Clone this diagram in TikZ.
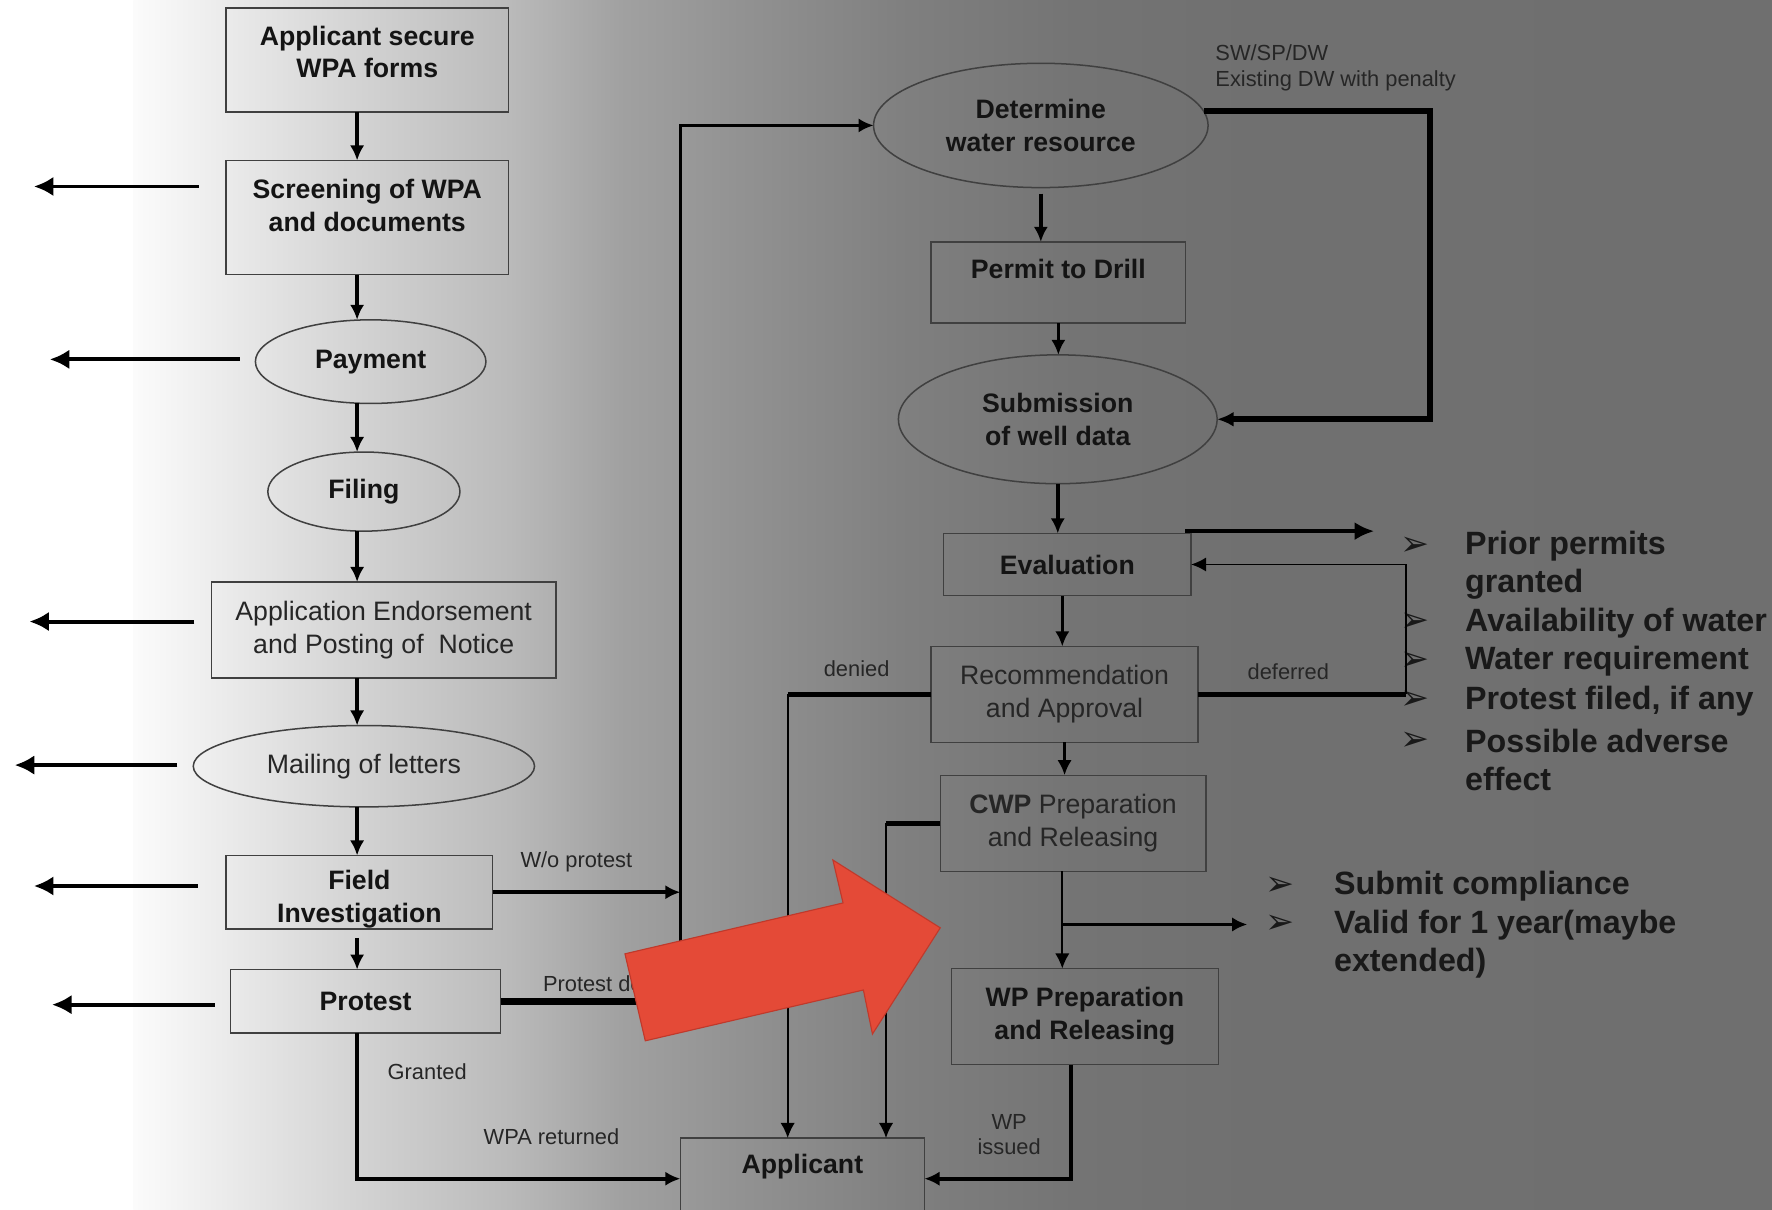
\documentclass[tikz,border=0pt]{standalone}
\usepackage{fontspec}
\setmainfont{Liberation Sans}
\newfontfamily\symfont{DejaVu Sans}
\usetikzlibrary{shapes.geometric,arrows.meta,calc}

\definecolor{bgA}{gray}{0.985}
\definecolor{bgB}{gray}{0.92}
\definecolor{bgC}{gray}{0.84}
\definecolor{bgD}{gray}{0.73}
\definecolor{bgE}{gray}{0.63}
\definecolor{bgF}{gray}{0.575}
\definecolor{bgG}{gray}{0.50}
\definecolor{bgH}{gray}{0.455}
\definecolor{bgI}{gray}{0.44}
\definecolor{bgJ}{gray}{0.435}
\definecolor{redfill}{RGB}{228,74,55}
\definecolor{redline}{RGB}{192,57,43}

\tikzset{every picture/.style={line width=0.75pt}}
\tikzset{
  box/.style={draw=black!75, line width=1pt, inner sep=0pt, outer sep=0pt, align=center, text=black!85, font=\fontsize{17.7}{21.75}\selectfont},
  bbox/.style={box, text=black!92, font=\fontsize{17.7}{21.75}\selectfont\bfseries},
  oval/.style={box, ellipse},
  boval/.style={bbox, ellipse},
  btxt/.style={align=center, inner sep=0pt, text=black!92, font=\fontsize{17.7}{21.75}\selectfont\bfseries},
  lbl/.style={inner sep=0pt, align=center, text=black!85, font=\fontsize{14.5}{17}\selectfont},
  item/.style={anchor=west, inner sep=0pt, align=left, text=black!90, font=\fontsize{21.4}{25.5}\selectfont\bfseries},
  bul/.style={inner sep=0pt, text=black!90, font=\symfont\fontsize{23}{25}\selectfont},
  flow/.style={line width=2.3pt, -{Latex[length=10pt,width=9.5pt]}},
  side/.style={line width=2.6pt, -{Latex[length=13pt,width=13pt]}},
  heavy/.style={line width=3.4pt},
  fine/.style={line width=1.1pt, -{Latex[length=10pt,width=9.5pt]}},
  redarrow/.style={fill=redfill, draw=redline, line width=0.75pt},
}

\begin{document}
\begin{tikzpicture}[x=0.75pt,y=0.75pt,yscale=-1,xscale=1]
\useasboundingbox (0,0) rectangle (1568,1070);

% background
\fill[white] (0,0) rectangle (118.5,1070);
\shade[left color=bgA, right color=bgB] (118,0) rectangle (200.5,1070);
\shade[left color=bgB, right color=bgC] (200,0) rectangle (300.5,1070);
\shade[left color=bgC, right color=bgD] (300,0) rectangle (450.5,1070);
\shade[left color=bgD, right color=bgE] (450,0) rectangle (550.5,1070);
\shade[left color=bgE, right color=bgF] (550,0) rectangle (650.5,1070);
\shade[left color=bgF, right color=bgG] (650,0) rectangle (800.5,1070);
\shade[left color=bgG, right color=bgH] (800,0) rectangle (950.5,1070);
\shade[left color=bgH, right color=bgI] (950,0) rectangle (1100.5,1070);
\shade[left color=bgI, right color=bgJ] (1100,0) rectangle (1568,1070);

% left column
\coordinate (cL) at (316,0);
\node[bbox, minimum width=187.5pt, minimum height=69pt] (secure) at (325,53) {};
\node[btxt] (securet) at (325,46) {Applicant secure\\WPA forms};
\node[bbox, minimum width=187.5pt, minimum height=75.75pt] (scr) at (325,192.5) {};
\node[btxt] (scrt) at (325,181.5) {Screening of WPA\\and documents};
\node[boval, minimum width=153pt, minimum height=55.5pt] (pay) at (328,320) {Payment};
\node[boval, minimum width=127.5pt, minimum height=52.5pt] (fil) at (322,435) {Filing};
\node[box, minimum width=228.75pt, minimum height=63.75pt] (endo) at (339.5,557.5) {Application Endorsement\\and Posting of~ Notice};
\node[oval, minimum width=226.5pt, minimum height=54pt] (mail) at (322,678) {Mailing of letters};
\node[bbox, minimum width=177pt, minimum height=48.75pt] (field) at (318,789.5) {};
\node[btxt] (fieldt) at (318,795.5) {Field\\Investigation};
\node[bbox, minimum width=179.25pt, minimum height=42pt] (prot) at (323.5,886) {Protest};
\node[bbox, minimum width=162pt, minimum height=54pt] (app) at (710,1043) {};
\node[btxt] (appt) at (710,1032) {Applicant};

\draw[flow] (secure.south -| cL) -- (scr.north -| cL);
\draw[flow] (scr.south -| cL) -- (pay.north -| cL);
\draw[flow] (pay.south -| cL) -- (fil.north -| cL);
\draw[flow] (fil.south -| cL) -- (endo.north -| cL);
\draw[flow] (endo.south -| cL) -- (mail.north -| cL);
\draw[flow] (mail.south -| cL) -- (field.north -| cL);
\draw[flow, shorten <=6pt] (field.south -| cL) -- (prot.north -| cL);

% arrows out to the left
\draw[side] (scr.west) ++(-24,-27.5) -- ++(-146,0);
\draw[side] (pay.west) ++(-14,-2) -- ++(-168,0);
\draw[side] (endo.west) ++(-15,-7.5) -- ++(-146,0);
\draw[side] (mail.west) ++(-14,-1) -- ++(-144,0);
\draw[side] (field.west) ++(-25,-5.5) -- ++(-145,0);
\draw[side] (prot.west) ++(-14,3) -- ++(-144,0);

% right column
\coordinate (cR) at (940,0);
\node[boval, minimum width=222pt, minimum height=82.5pt] (det) at (921,111) {Determine\\water resource};
\node[bbox, minimum width=168.75pt, minimum height=54pt] (permit) at (936.5,250) {};
\node[btxt] (permitt) at (936.5,238) {Permit to Drill};
\node[boval, minimum width=211.5pt, minimum height=85.5pt] (sub) at (936,371) {Submission\\of well data};
\node[bbox, minimum width=164.25pt, minimum height=41.25pt] (eval) at (944.5,499.5) {Evaluation};
\node[box, minimum width=177pt, minimum height=63.75pt] (rec) at (942,614.5) {Recommendation\\and Approval};
\node[box, minimum width=176.25pt, minimum height=63.75pt] (cwp) at (949.5,728.5) {{\bfseries CWP} Preparation\\and Releasing};
\node[bbox, minimum width=177pt, minimum height=63.75pt] (wp) at (960,899.5) {WP Preparation\\and Releasing};

\draw[flow, shorten <=4pt] (det.south) -- (det.south |- permit.north);
\draw[flow] (permit.south) -- (permit.south |- sub.north);
\draw[flow] (sub.south) -- (sub.south |- eval.north);
\draw[flow] (eval.south -| cR) -- (rec.north -| cR);
\draw[flow] (rec.south) -- (rec.south |- cwp.north);
\draw[fine] (cwp.south -| cR) -- (wp.north -| cR);

% bullet lists
\node[bul] (b1) at (1252,483) {➢};
\node[bul] (b2) at (1252,551) {➢};
\node[bul] (b3) at (1252,585) {➢};
\node[bul] (b4) at (1252,620) {➢};
\node[bul] (b5) at (1252,656) {➢};
\node[item] (i1) at (1296,500) {Prior permits\\granted};
\node[item] (i2) at (1296,551) {Availability of water};
\node[item] (i3) at (1296,585) {Water requirement};
\node[item] (i4) at (1296,620) {Protest filed, if any};
\node[item] (i5) at (1296,672.5) {Possible adverse\\effect};
\node[bul] (b6) at (1133,784) {➢};
\node[bul] (b7) at (1133,818) {➢};
\node[item] (i6) at (1180,784) {Submit compliance};
\node[item] (i7) at (1180,835.5) {Valid for 1 year(maybe\\extended)};

% branches
\coordinate (upx) at (602,0);
\coordinate (swx) at (1265,0);
\coordinate (fbx) at (1244,0);
\coordinate (dnx) at (697,0);
\coordinate (cwx) at (784,0);
\coordinate (wpx) at (948,0);

\draw[flow] (field.east) -- (field.east -| upx);
\draw[line width=4.5pt] (prot.east) -- (prot.east -| upx);
\draw[flow] (prot.east -| upx) |- (det.west);
\draw[flow, line width=2.6pt] (prot.south -| cL) |- (app.west);
\draw[line width=4pt, -{Latex[length=11pt,width=10pt]}] (det.5) -- (det.5 -| swx) |- (sub.east);
\draw[line width=3pt, -{Latex[length=13pt,width=12pt]}, shorten >=17pt] (eval.north east) ++(-5,-2) coordinate (eo) -- (eo -| b1.west);
\draw[heavy] (rec.east) -- (rec.east -| fbx);
\draw[fine] (rec.east -| fbx) |- (eval.east);
\draw[heavy] (rec.west) -- (rec.west -| dnx);
\draw[fine] (rec.west -| dnx) -- (app.north -| dnx);
\draw[heavy] (cwp.west) -- (cwp.west -| cwx);
\draw[fine] (cwp.west -| cwx) -- (app.north -| cwx);
\coordinate (vfork) at ($(cwp.south -| cR)!0.547!(wp.north -| cR)$);
\draw[flow, shorten >=12pt] (vfork) -- (vfork -| b7.west);
\draw[flow, line width=2.6pt] (wp.south -| wpx) |- (app.east);

% labels
\node[lbl] (lwo) at (510,763) {W/o protest};
\node[lbl, anchor=west] (lpd) at (480,870) {Protest denied};
\node[lbl] (lgr) at (378,948) {Granted};
\node[lbl] (lret) at (488,1006) {WPA returned};
\node[lbl] (lden) at (758,592) {denied};
\node[lbl] (ldef) at (1140,594) {deferred};
\node[lbl] (liss) at (893,1004) {WP\\issued};
\node[lbl, anchor=west, align=left] (lsw) at (1075,60) {SW/SP/DW\\Existing DW with penalty};

% red arrow on top
\draw[redarrow] (553,844) -- (746,799) -- (737,761) -- (832,821) -- (772,915) -- (764,876) -- (571,921) -- cycle;

\end{tikzpicture}
\end{document}
